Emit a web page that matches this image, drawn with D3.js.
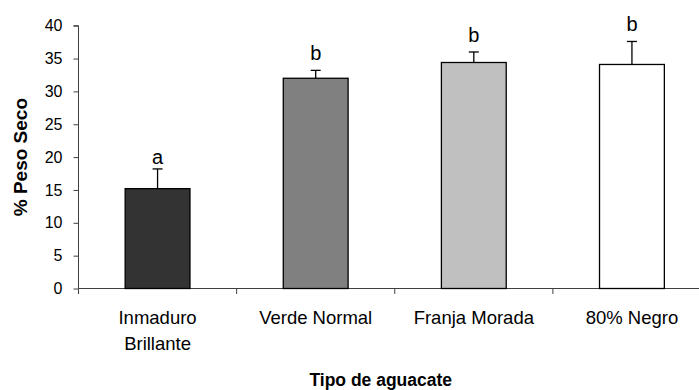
<!DOCTYPE html>
<html>
<head>
<meta charset="utf-8">
<script src="https://cdn.jsdelivr.net/npm/d3@7"></script>
<style>
  html, body { margin: 0; padding: 0; background: #fff; }
  svg { display: block; font-family: "Liberation Sans", Arial, sans-serif; }
</style>
</head>
<body>
<svg id="chart" width="699" height="390"></svg>
<script>
// Dry weight (%) by avocado type, with standard deviation and significance letters
const categories = [["Inmaduro", "Brillante"], ["Verde Normal"], ["Franja Morada"], ["80% Negro"]];
const means = [15.2, 32.0, 34.4, 34.1];
const errors = [3.0, 1.2, 1.6, 3.5];
const letters = ["a", "b", "b", "b"];
const fills = ["#333333", "#808080", "#c0c0c0", "#ffffff"];
const yTicks = [0, 5, 10, 15, 20, 25, 30, 35, 40];

const svg = d3.select("#chart");
const plotLeft = 78.5, plotRight = 711, plotTop = 25.7, plotBottom = 288.5;

const x = d3.scaleBand()
  .domain(d3.range(categories.length))
  .range([plotLeft, plotRight])
  .paddingInner(0).paddingOuter(0);

const y = d3.scaleLinear().domain([0, 40]).range([plotBottom, plotTop]);

const axisColor = "#404040";

// y axis
const yAxis = svg.append("g")
  .attr("transform", `translate(${plotLeft},0)`)
  .call(d3.axisLeft(y).tickValues(yTicks).tickSize(5).tickPadding(11));
yAxis.select(".domain").attr("stroke", axisColor).attr("d", `M-5,${y(40)}H0V${plotBottom}`);
yAxis.selectAll(".tick line").attr("stroke", axisColor);
yAxis.selectAll(".tick text")
  .attr("font-size", "16px").attr("fill", "#000")
  .attr("font-family", "Liberation Sans, Arial, sans-serif");

// x axis: ticks at band boundaries
const xAxisG = svg.append("g");
xAxisG.append("line")
  .attr("x1", plotLeft).attr("x2", plotRight)
  .attr("y1", plotBottom).attr("y2", plotBottom)
  .attr("stroke", axisColor);
const boundaries = d3.range(categories.length + 1).map(i => i < categories.length ? x(i) : x(i - 1) + x.bandwidth());
xAxisG.selectAll("line.xt").data(boundaries).join("line")
  .attr("class", "xt")
  .attr("x1", d => d).attr("x2", d => d)
  .attr("y1", plotBottom).attr("y2", plotBottom + 5.5)
  .attr("stroke", axisColor);

// bars
const barW = x.bandwidth() * 0.41;
const cx = i => x(i) + x.bandwidth() / 2;

svg.append("g").selectAll("rect").data(means).join("rect")
  .attr("x", (d, i) => cx(i) - barW / 2)
  .attr("y", d => y(d))
  .attr("width", barW)
  .attr("height", d => y(0) - y(d))
  .attr("fill", (d, i) => fills[i])
  .attr("stroke", "#000")
  .attr("stroke-width", 1.3);

// error bars (upper side only)
const eb = svg.append("g").attr("stroke", "#000").attr("stroke-width", 1.3);
means.forEach((m, i) => {
  eb.append("line")
    .attr("x1", cx(i)).attr("x2", cx(i))
    .attr("y1", y(m)).attr("y2", y(m + errors[i]));
  eb.append("line")
    .attr("x1", cx(i) - 5).attr("x2", cx(i) + 5)
    .attr("y1", y(m + errors[i])).attr("y2", y(m + errors[i]));
});

// significance letters
svg.append("g").selectAll("text").data(letters).join("text")
  .attr("x", (d, i) => cx(i))
  .attr("y", (d, i) => y(means[i] + errors[i]) - (d === "a" ? 5 : 10))
  .attr("text-anchor", "middle")
  .attr("font-size", "20px")
  .text(d => d);

// category labels
const catG = svg.append("g");
categories.forEach((lines, i) => {
  const t = catG.append("text")
    .attr("x", cx(i)).attr("y", 323.5)
    .attr("text-anchor", "middle")
    .attr("font-size", "18.5px");
  lines.forEach((ln, j) => {
    t.append("tspan").attr("x", cx(i)).attr("dy", j === 0 ? 0 : 26).text(ln);
  });
});

// axis titles
svg.append("text")
  .attr("x", (plotLeft + 711) / 2 - 14).attr("y", 386)
  .attr("text-anchor", "middle")
  .attr("font-weight", "bold")
  .attr("font-size", "17.5px")
  .text("Tipo de aguacate");

svg.append("text")
  .attr("transform", `translate(26.5,${(plotTop + plotBottom) / 2}) rotate(-90)`)
  .attr("text-anchor", "middle")
  .attr("font-weight", "bold")
  .attr("font-size", "19px")
  .text("% Peso Seco");
</script>
</body>
</html>
